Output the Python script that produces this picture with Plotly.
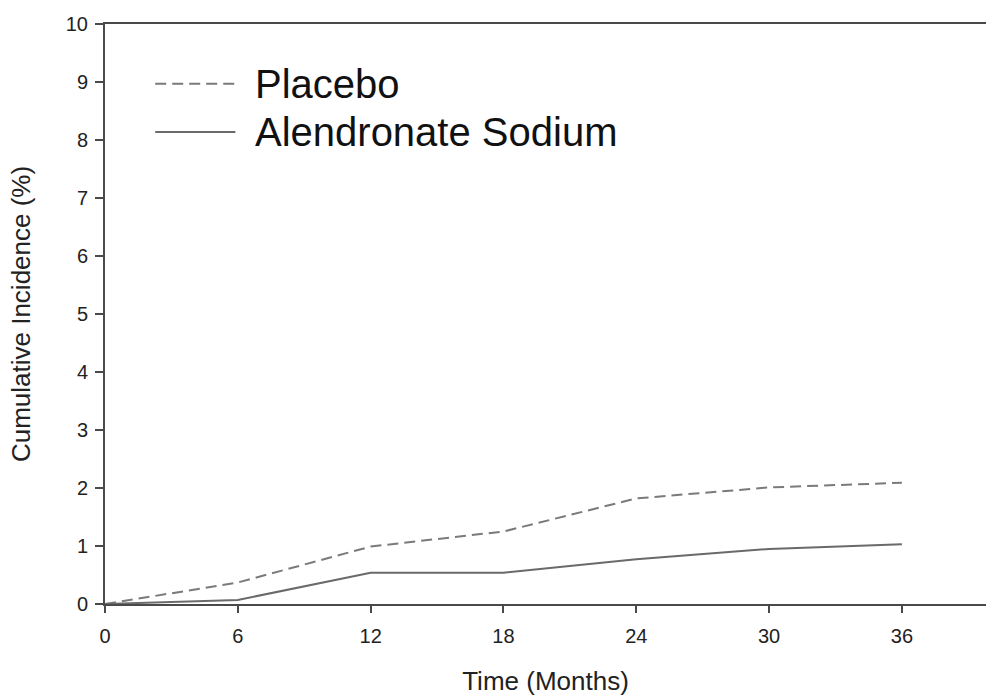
import plotly.graph_objects as go

months = [0, 6, 12, 18, 24, 30, 36]
placebo = [0.0, 0.37, 0.99, 1.25, 1.82, 2.01, 2.09]
alendronate = [0.0, 0.07, 0.54, 0.54, 0.77, 0.95, 1.03]
series_names = ["Placebo", "Alendronate Sodium"]
x_ticks = [0, 6, 12, 18, 24, 30, 36]
y_ticks = list(range(0, 11))

FONT = "Liberation Sans, Arial, sans-serif"
AXIS_COLOR = "#4a4a4a"

fig = go.Figure()
fig.add_trace(go.Scatter(
    x=months, y=placebo, mode="lines", name=series_names[0],
    line=dict(color="#7a7a7a", width=2, dash="11px,6px"), showlegend=False))
fig.add_trace(go.Scatter(
    x=months, y=alendronate, mode="lines", name=series_names[1],
    line=dict(color="#6a6a6a", width=2), showlegend=False))

# legend drawn as keys + labels to match the long key samples in the reference
key_x0, key_x1, txt_x = 0.057, 0.148, 0.168
rows = [(0.897, "11px,6px", "#7a7a7a"), (0.814, "solid", "#6a6a6a")]
for (yy, dash, col), name in zip(rows, series_names):
    fig.add_shape(type="line", xref="paper", yref="paper",
                  x0=key_x0, x1=key_x1, y0=yy, y1=yy,
                  line=dict(color=col, width=2, dash=dash))
    fig.add_annotation(xref="paper", yref="paper", x=txt_x, y=yy, text=name,
                       showarrow=False, xanchor="left", yanchor="middle",
                       font=dict(family=FONT, size=40, color="#111"))

fig.update_layout(
    width=986, height=696,
    margin=dict(l=105, r=0, t=24, b=92),
    paper_bgcolor="white", plot_bgcolor="white",
    font=dict(family=FONT, color="#333"),
)
fig.update_xaxes(
    range=[0, 39.8], tickvals=x_ticks, ticktext=[str(v) for v in x_ticks],
    showgrid=False, zeroline=False, showline=True, linecolor=AXIS_COLOR,
    linewidth=2, mirror=True, ticks="outside", ticklen=7, tickwidth=2,
    tickcolor=AXIS_COLOR, tickfont=dict(family=FONT, size=20, color="#222"),
    ticklabelstandoff=6, automargin=False,
    title=dict(text="Time (Months)", font=dict(family=FONT, size=26, color="#222"),
               standoff=34),
)
fig.update_yaxes(
    range=[0, 10], tickvals=y_ticks, ticktext=[str(v) for v in y_ticks],
    showgrid=False, zeroline=False, showline=True, linecolor=AXIS_COLOR,
    linewidth=2, mirror=False, ticks="outside", ticklen=8, tickwidth=2,
    tickcolor=AXIS_COLOR, tickfont=dict(family=FONT, size=20, color="#222"),
    ticklabelstandoff=3, automargin=False,
    title=dict(text="Cumulative Incidence (%)",
               font=dict(family=FONT, size=26, color="#222"), standoff=28),
)

fig.write_html("out.html",
               config={"displayModeBar": False},
               post_script="document.body.style.margin='0';document.body.style.overflow='hidden';")
